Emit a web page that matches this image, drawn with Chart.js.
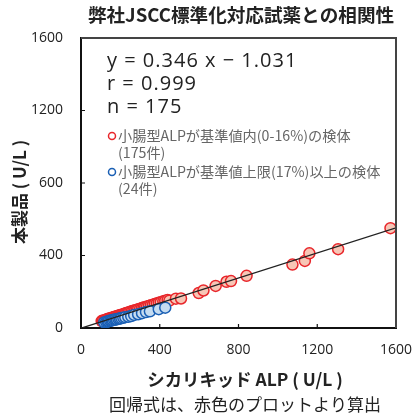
<!DOCTYPE html>
<html>
<head>
<meta charset="utf-8">
<script src="https://cdn.jsdelivr.net/npm/chart.js@4"></script>
<style>
  html, body { margin: 0; padding: 0; background: #fff; }
  #wrap { width: 419px; height: 418px; }
</style>
</head>
<body>
<div id="wrap"><canvas id="c" width="419" height="418"></canvas></div>
<script>
// values
const chartTitle = "弊社JSCC標準化対応試薬との相関性";
const xTitle = "シカリキッド ALP ( U/L )";
const yTitle = "本製品 ( U/L )";
const note = "回帰式は、赤色のプロットより算出";
const statLines = ["y = 0.346 x − 1.031", "r = 0.999", "n = 175"];
const legendRed = ["小腸型ALPが基準値内(0-16%)の検体", "(175件)"];
const legendBlue = ["小腸型ALPが基準値上限(17%)以上の検体", "(24件)"];

const xTicks = [0, 400, 800, 1200, 1600];
const xTickLabels = ["0", "400", "800", "1200", "1600"];
const yTicks = [0, 400, 800, 1200, 1600];
const yTickLabels = ["0", "400", "600", "1200", "1600"]; // as printed in the source

const slope = 0.346;
const intercept = -1.031;

const redX = [105, 112, 118, 125, 130, 136, 142, 148, 155, 160, 166, 172, 178, 185, 192, 198, 205, 212, 220, 228,
  235, 242, 250, 258, 266, 275, 283, 290, 300, 310, 318, 326, 335, 345, 355, 365, 375, 385, 395, 405, 418, 428, 440,
  449, 482, 508, 598, 622, 684, 739, 762, 841, 1074, 1137, 1160, 1306, 1572];
const redY = [38, 42, 40, 45, 47, 50, 52, 53, 56, 57, 60, 62, 64, 66, 69, 70, 73, 75, 78, 82,
  84, 86, 90, 92, 95, 98, 100, 103, 106, 110, 113, 115, 118, 122, 126, 128, 133, 135, 140, 142, 147, 150, 154,
  151, 162, 163, 193, 207, 232, 255, 259, 288, 350, 370, 412, 435, 551];

const blueX = [118, 128, 135, 140, 148, 155, 160, 168, 175, 182, 190, 198, 205, 215, 225, 240, 255, 270, 290, 310, 330, 350, 395, 428];
const blueY = [31, 33, 36, 38, 40, 41, 44, 45, 47, 48, 51, 52, 55, 57, 60, 62, 66, 72, 76, 82, 88, 92, 104, 112];

const FONT = "'Noto Sans CJK JP', 'Noto Sans', sans-serif";
const NUM_FONT = "'Open Sans', 'Noto Sans CJK JP', sans-serif";

const toPoints = (xs, ys) => xs.map((x, i) => ({ x, y: ys[i] }));

const frame = {
  id: "frame",
  afterDatasetsDraw(chart) {
    const { ctx, chartArea: a, scales } = chart;
    ctx.save();
    // top and right edges of the box
    ctx.strokeStyle = "#444";
    ctx.lineWidth = 2;
    ctx.beginPath();
    ctx.moveTo(a.left, a.top);
    ctx.lineTo(a.right, a.top);
    ctx.lineTo(a.right, a.bottom);
    ctx.stroke();
    // inward tick marks
    ctx.strokeStyle = "#111";
    ctx.lineWidth = 1.2;
    ctx.beginPath();
    xTicks.slice(1, -1).forEach((v) => {
      const px = scales.x.getPixelForValue(v);
      ctx.moveTo(px, a.bottom);
      ctx.lineTo(px, a.bottom - 4);
    });
    yTicks.slice(1, -1).forEach((v) => {
      const py = scales.y.getPixelForValue(v);
      ctx.moveTo(a.left, py);
      ctx.lineTo(a.left + 4, py);
    });
    ctx.stroke();

    // regression text
    ctx.fillStyle = "#222";
    ctx.font = "20px " + NUM_FONT;
    ctx.letterSpacing = "1px";
    ctx.textBaseline = "alphabetic";
    ctx.textAlign = "left";
    statLines.forEach((t, i) => ctx.fillText(t, 107, 67 + i * 23));
    ctx.letterSpacing = "0px";

    // legend
    const drawItem = (lines, y, stroke) => {
      ctx.beginPath();
      ctx.arc(112, y, 3.5, 0, Math.PI * 2);
      ctx.fillStyle = "#fff";
      ctx.fill();
      ctx.strokeStyle = stroke;
      ctx.lineWidth = 1.5;
      ctx.stroke();
      ctx.fillStyle = "#666";
      ctx.font = "14.2px " + FONT;
      ctx.textBaseline = "middle";
      lines.forEach((t, i) => ctx.fillText(t, 118, y + i * 17));
    };
    drawItem(legendRed, 136, "#e8262b");
    drawItem(legendBlue, 172, "#1a5fb4");

    // titles
    ctx.fillStyle = "#222";
    ctx.textAlign = "center";
    ctx.textBaseline = "middle";
    ctx.font = "bold 18.6px " + FONT;
    ctx.fillText(chartTitle, 241, 15);
    ctx.font = "bold 17.4px " + FONT;
    ctx.fillText(xTitle, 245, 379);
    ctx.font = "17px " + FONT;
    ctx.fillText(note, 245, 405);
    ctx.save();
    ctx.translate(20, 192);
    ctx.rotate(-Math.PI / 2);
    ctx.font = "bold 17px " + FONT;
    ctx.fillText(yTitle, 0, 0);
    ctx.restore();
    ctx.restore();
  },
};

new Chart(document.getElementById("c"), {
  type: "scatter",
  data: {
    datasets: [
      {
        label: "red",
        data: toPoints(redX, redY),
        backgroundColor: "#f7c6b6",
        borderColor: "#e8262b",
        borderWidth: 1.5,
        pointRadius: 5.5,
        order: 3,
      },
      {
        label: "blue",
        data: toPoints(blueX, blueY),
        backgroundColor: "#c6dcf1",
        borderColor: "#1a5fb4",
        borderWidth: 1.5,
        pointRadius: 5.5,
        order: 2,
      },
      {
        type: "line",
        label: "fit",
        data: [
          { x: 0, y: intercept },
          { x: 1600, y: slope * 1600 + intercept },
        ],
        borderColor: "#222",
        borderWidth: 1.3,
        pointRadius: 0,
        fill: false,
        order: 1,
      },
    ],
  },
  options: {
    responsive: false,
    animation: false,
    layout: { padding: { top: 38, right: 23, bottom: 0, left: 0 } },
    plugins: { legend: { display: false }, tooltip: { enabled: false } },
    scales: {
      x: {
        type: "linear",
        min: 0,
        max: 1600,
        afterFit: (s) => { s.height = 90; },
        afterBuildTicks: (s) => { s.ticks = xTicks.map((v) => ({ value: v })); },
        grid: { display: false },
        border: { color: "#111", width: 2 },
        ticks: {
          color: "#222",
          padding: 6,
          font: { family: NUM_FONT, size: 14 },
          callback: (v) => xTickLabels[xTicks.indexOf(v)],
        },
      },
      y: {
        type: "linear",
        min: 0,
        max: 1600,
        afterFit: (s) => { s.width = 81; },
        afterBuildTicks: (s) => { s.ticks = yTicks.map((v) => ({ value: v })); },
        grid: { display: false },
        border: { color: "#111", width: 2 },
        ticks: {
          color: "#222",
          padding: 10,
          font: { family: NUM_FONT, size: 14 },
          callback: (v) => yTickLabels[yTicks.indexOf(v)],
        },
      },
    },
  },
  plugins: [frame],
});
</script>
</body>
</html>
